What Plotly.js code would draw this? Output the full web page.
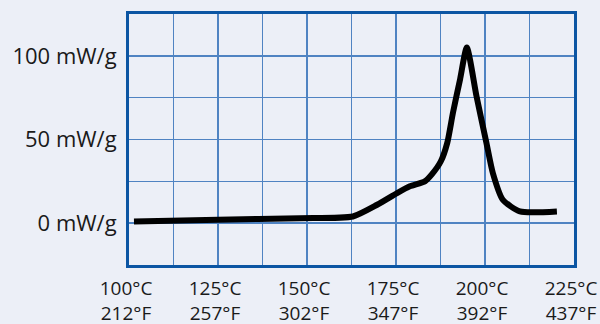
<!DOCTYPE html>
<html>
<head>
<meta charset="utf-8">
<script src="https://cdn.plot.ly/plotly-3.0.1.min.js"></script>
<style>
html,body{margin:0;padding:0;background:#eceff7;}
#chart{width:600px;height:324px;}
</style>
</head>
<body>
<div id="chart"></div>
<script>
// Temperature (°C) and heat flow (mW/g)
const temperatureC = [101.4, 125, 148.0, 162.9, 169.7, 175.3, 178.9, 183.1, 185.0, 187.6, 189.4, 191.0, 193.0, 194.9, 197.6, 200.4, 202.2, 205.0, 209.8, 220.2];
const heatFlow     = [1, 2, 3, 4, 11, 18, 22, 25, 29, 37, 48, 66, 86, 105, 76, 48, 30, 14, 7, 7];

const xTickVals = [100, 125, 150, 175, 200, 225];
const xTickText = ['100°C<br>212°F', '125°C<br>257°F', '150°C<br>302°F', '175°C<br>347°F', '200°C<br>392°F', '225°C<br>437°F'];
const yTickVals = [0, 50, 100];
const yTickText = ['0 mW/g', '50 mW/g', '100 mW/g'];

const gridColor = '#4f83c2';
const borderColor = '#0b55a3';

const trace = {
  x: temperatureC,
  y: heatFlow,
  type: 'scatter',
  mode: 'lines',
  line: {color: '#000000', width: 6, shape: 'spline', smoothing: 0.6},
  hoverinfo: 'skip'
};

const layout = {
  width: 600, height: 324,
  margin: {l: 129, r: 26, t: 14, b: 59},
  paper_bgcolor: '#eceff7',
  plot_bgcolor: '#eceff7',
  showlegend: false,
  font: {family: '"Open Sans", sans-serif', size: 21, color: '#1a1a1a'},
  xaxis: {
    range: [100, 225],
    tickvals: xTickVals,
    ticktext: xTickText,
    showgrid: true, gridcolor: gridColor, gridwidth: 1.5,
    minor: {dtick: 12.5, tick0: 100, showgrid: true, gridcolor: gridColor, gridwidth: 1.5, ticklen: 0},
    showline: true, linecolor: borderColor, linewidth: 3, mirror: true,
    zeroline: false, ticks: '',
    tickfont: {size: 19, color: '#1a1a1a'},
    ticklabelstandoff: 4,
    ticklabelshift: -3,
    ticklabeloverflow: 'allow',
    fixedrange: true
  },
  yaxis: {
    range: [-25, 125],
    tickvals: yTickVals,
    ticktext: yTickText,
    showgrid: true, gridcolor: gridColor, gridwidth: 1.5,
    minor: {dtick: 25, tick0: 0, showgrid: true, gridcolor: gridColor, gridwidth: 1.5, ticklen: 0},
    showline: true, linecolor: borderColor, linewidth: 3, mirror: true,
    zeroline: false, ticks: '',
    tickfont: {size: 22, color: '#1a1a1a'},
    ticklabelstandoff: 5,
    fixedrange: true
  }
};

Plotly.newPlot('chart', [trace], layout, {displayModeBar: false, staticPlot: true});
</script>
</body>
</html>
